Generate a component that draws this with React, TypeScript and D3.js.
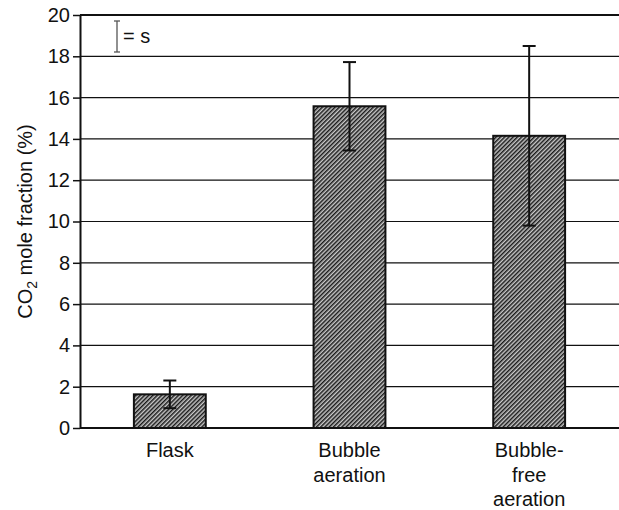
import { useEffect, useRef } from "react";
import * as d3 from "d3";

const categories = ["Flask", "Bubble aeration", "Bubble-free aeration"];
const labelLines = [["Flask"], ["Bubble", "aeration"], ["Bubble-", "free", "aeration"]];
const means = [1.63, 15.58, 14.15];
const sds = [0.67, 2.14, 4.35];
const yTicks = [0, 2, 4, 6, 8, 10, 12, 14, 16, 18, 20];

export default function App() {
  const ref = useRef<SVGSVGElement>(null);

  useEffect(() => {
    const width = 619;
    const height = 510;
    const margin = { top: 15, right: 0, bottom: 82, left: 80 };

    const svg = d3.select(ref.current).attr("width", width).attr("height", height);
    svg.selectAll("*").remove();

    const font = "Liberation Sans, Arial, sans-serif";
    const fs = 20;

    const defs = svg.append("defs");
    const pat = defs
      .append("pattern")
      .attr("id", "hatch")
      .attr("patternUnits", "userSpaceOnUse")
      .attr("width", 3)
      .attr("height", 3)
      .attr("patternTransform", "rotate(45)");
    pat.append("rect").attr("width", 3).attr("height", 3).attr("fill", "#c8c8c8");
    pat.append("rect").attr("width", 1.5).attr("height", 3).attr("fill", "#1a1a1a");

    const x = d3
      .scaleBand()
      .domain(categories)
      .range([margin.left, width - margin.right])
      .paddingInner(0.6)
      .paddingOuter(0.3);

    const y = d3
      .scaleLinear()
      .domain([0, 20])
      .range([height - margin.bottom, margin.top]);

    // gridlines
    svg
      .append("g")
      .selectAll("line")
      .data(yTicks)
      .join("line")
      .attr("x1", margin.left)
      .attr("x2", width)
      .attr("y1", d => y(d))
      .attr("y2", d => y(d))
      .attr("stroke", "#111")
      .attr("stroke-width", d => (d === 20 || d === 0 ? 2 : 1.2));

    // y axis
    const yAxis = svg
      .append("g")
      .attr("transform", `translate(${margin.left},0)`)
      .call(d3.axisLeft(y).tickValues(yTicks).tickSize(7).tickSizeOuter(0).tickPadding(3));
    yAxis.select(".domain").attr("stroke", "#111").attr("stroke-width", 2);
    yAxis.selectAll(".tick line").attr("stroke", "#111").attr("stroke-width", 1.5);
    yAxis
      .selectAll(".tick text")
      .attr("font-family", font)
      .attr("font-size", fs)
      .attr("fill", "#111");

    // bars
    svg
      .append("g")
      .selectAll("rect")
      .data(means)
      .join("rect")
      .attr("x", (_, i) => x(categories[i])!)
      .attr("width", x.bandwidth())
      .attr("y", d => y(d))
      .attr("height", d => y(0) - y(d))
      .attr("fill", "url(#hatch)")
      .attr("stroke", "#111")
      .attr("stroke-width", 2);

    // error bars
    const eg = svg.append("g").attr("stroke", "#111").attr("stroke-width", 2);
    means.forEach((m, i) => {
      const cx = x(categories[i])! + x.bandwidth() / 2;
      eg.append("line").attr("x1", cx).attr("x2", cx).attr("y1", y(m - sds[i])).attr("y2", y(m + sds[i]));
      [m - sds[i], m + sds[i]].forEach(v => {
        eg.append("line").attr("x1", cx - 6.5).attr("x2", cx + 6.5).attr("y1", y(v)).attr("y2", y(v));
      });
    });

    // x labels
    const xl = svg.append("g");
    labelLines.forEach((lines, i) => {
      const cx = x(categories[i])! + x.bandwidth() / 2;
      lines.forEach((t, j) => {
        xl.append("text")
          .attr("x", cx)
          .attr("y", 457 + j * 24.5)
          .attr("text-anchor", "middle")
          .attr("font-family", font)
          .attr("font-size", fs)
          .attr("fill", "#111")
          .text(t);
      });
    });

    // y label
    const yl = svg
      .append("text")
      .attr("transform", `translate(32,${(margin.top + height - margin.bottom) / 2}) rotate(-90)`)
      .attr("text-anchor", "middle")
      .attr("font-family", font)
      .attr("font-size", fs)
      .attr("fill", "#111");
    yl.append("tspan").text("CO");
    yl.append("tspan").attr("font-size", 14).attr("dy", 5).text("2");
    yl.append("tspan").attr("dy", -5).text(" mole fraction (%)");

    // legend
    const lg = svg.append("g").attr("stroke", "#555").attr("stroke-width", 1.3);
    lg.append("line").attr("x1", 117).attr("x2", 117).attr("y1", 21).attr("y2", 52);
    lg.append("line").attr("x1", 114).attr("x2", 120).attr("y1", 21).attr("y2", 21);
    lg.append("line").attr("x1", 114).attr("x2", 120).attr("y1", 52).attr("y2", 52);
    svg
      .append("text")
      .attr("x", 123)
      .attr("y", 43)
      .attr("font-family", font)
      .attr("font-size", fs)
      .attr("fill", "#111")
      .text("= s");
  }, []);

  return <svg ref={ref} style={{ display: "block", position: "absolute", left: 0, top: 0 }} />;
}
